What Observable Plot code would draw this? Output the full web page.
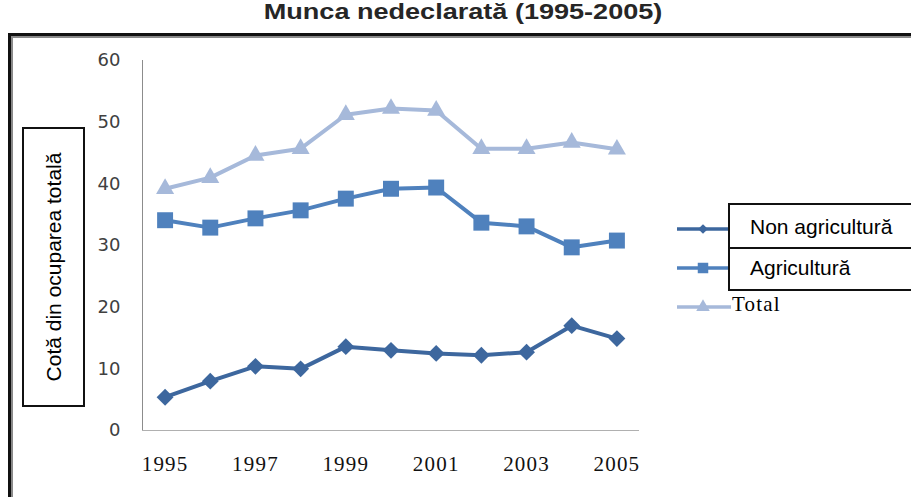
<!DOCTYPE html>
<html>
<head>
<meta charset="utf-8">
<script src="https://cdn.jsdelivr.net/npm/d3@7"></script>
<script src="https://cdn.jsdelivr.net/npm/@observablehq/plot@0.6"></script>
<style>
  html, body { margin: 0; padding: 0; background: #fff; overflow: hidden; }
  #page { position: relative; width: 911px; height: 497px; overflow: hidden; background: #fff; }
  #title { position: absolute; left: 8px; top: 1px; width: 911px; text-align: center;
    font: bold 22px "Liberation Sans", Arial, sans-serif; line-height: 22px; color: #262626; }
  #title span { display: inline-block; transform: scaleX(1.23); transform-origin: center; }
  #chart { position: absolute; left: 0; top: 33px; }
  #frame { position: absolute; left: 8px; top: 33px; width: 2000px; height: 2000px;
    border-left: 3px solid #111; border-top: 3px solid #111;
    box-shadow: inset 2px 2px 0 #8a8a8a; pointer-events: none; z-index: 5; }
  #ytitle { position: absolute; left: 22px; top: 127px; width: 59px; height: 276px;
    border: 2px solid #111; background: #fff; z-index: 3; }
  #ytitle span { position: absolute; left: 50%; top: 50%; white-space: nowrap;
    transform: translate(-50%, -50%) rotate(-90deg);
    font: 21px "Liberation Sans", Arial, sans-serif; color: #000; }
  #legendSvg { position: absolute; left: 0; top: 0; z-index: 2; }
  #legendBox { position: absolute; left: 728px; top: 203px; width: 400px; height: 84px;
    border: 2px solid #111; background: #fff; z-index: 3; }
  .lrow { position: absolute; left: 0; width: 400px; }
  .lrow .lbl { position: absolute; left: 20px; white-space: nowrap;
    font: 21px "Liberation Sans", Arial, sans-serif; color: #000; line-height: 24px; }
  #totalLabel { position: absolute; left: 732px; top: 292px; z-index: 3;
    font: 21px "Liberation Serif", "Times New Roman", serif; letter-spacing: 1.2px; color: #000; }
</style>
</head>
<body>
<div id="page">
  <div id="title"><span>Munca nedeclarată (1995-2005)</span></div>
  <div id="chart"></div>
  <div id="ytitle"><span>Cotă din ocuparea totală</span></div>
  <div id="frame"></div>
</div>
<script>
// ---- data ----
const years = [1995, 1996, 1997, 1998, 1999, 2000, 2001, 2002, 2003, 2004, 2005];
const nonAgricultura = [5.4, 8.0, 10.4, 10.0, 13.6, 13.0, 12.5, 12.2, 12.7, 17.0, 14.9];
const agricultura = [34.1, 32.9, 34.4, 35.7, 37.6, 39.2, 39.4, 33.7, 33.1, 29.7, 30.8];
const total = [39.2, 41.0, 44.6, 45.7, 51.2, 52.2, 51.9, 45.7, 45.7, 46.7, 45.6];
const seriesNames = ["Non agricultură", "Agricultură", "Total"];
const seriesColors = ["#3D679E", "#4F81BD", "#A6B9DA"];
const seriesSymbols = ["diamond2", "square", "triangle"];
const seriesR = [7.6, 9.0, 6.7];
const xTicks = [1995, 1997, 1999, 2001, 2003, 2005];
const yTicks = [0, 10, 20, 30, 40, 50, 60];

const seriesValues = [nonAgricultura, agricultura, total];
const rows = [];
seriesNames.forEach((s, i) => years.forEach((y, j) => rows.push({series: s, year: y, value: seriesValues[i][j]})));

const marks = [
  Plot.ruleX([1994.5], {y1: 0, y2: 60, stroke: "#8c8c8c", strokeWidth: 1}),
  Plot.ruleY([0], {x1: 1994.5, x2: 2005.5, stroke: "#b0b0b0", strokeWidth: 1}),
  Plot.axisY({ticks: yTicks, tickSize: 0, tickPadding: 22, fontSize: 18,
    fontFamily: "DejaVu Sans, Verdana, sans-serif", fill: "#404040", label: null}),
  Plot.axisX({ticks: xTicks, tickSize: 0, tickPadding: 26, fontSize: 21,
    fontFamily: "Liberation Serif, Times New Roman, serif", fill: "#111",
    tickFormat: d => String(d), label: null})
];
// draw Total first (behind), then Agricultura, then Non agricultura
[2, 1, 0].forEach(i => {
  const d = rows.filter(r => r.series === seriesNames[i]);
  marks.push(Plot.line(d, {x: "year", y: "value", stroke: seriesColors[i], strokeWidth: 4}));
  marks.push(Plot.dot(d, {x: "year", y: "value", fill: seriesColors[i], stroke: "none",
    symbol: seriesSymbols[i], r: seriesR[i]}));
});

const chart = Plot.plot({
  width: 911,
  height: 464,
  marginLeft: 142,
  marginRight: 272,
  marginTop: 27,
  marginBottom: 67,
  style: {background: "transparent", overflow: "visible"},
  x: {domain: [1994.5, 2005.5], label: null},
  y: {domain: [0, 60], label: null},
  marks
});
document.getElementById("chart").appendChild(chart);
d3.select(chart).selectAll("[aria-label='x-axis tick label'] text").style("letter-spacing", "1.2px");

// ---- legend ----
const page = d3.select("#page");
const lsvg = page.append("svg").attr("id", "legendSvg").attr("width", 911).attr("height", 497);
const legendY = [229, 268, 307];
const legendSym = [d3.symbolDiamond2, d3.symbolSquare, d3.symbolTriangle];
const legendSize = [60, 110, 80];
seriesNames.forEach((s, i) => {
  lsvg.append("line").attr("x1", 677).attr("x2", 731).attr("y1", legendY[i]).attr("y2", legendY[i])
    .attr("stroke", seriesColors[i]).attr("stroke-width", 3.5);
  lsvg.append("path").attr("d", d3.symbol(legendSym[i], legendSize[i])())
    .attr("transform", `translate(703,${legendY[i]})`).attr("fill", seriesColors[i]);
});
const box = page.append("div").attr("id", "legendBox");
box.append("div").style("position", "absolute").style("left", "0px").style("top", "42px")
  .style("width", "400px").style("height", "0px").style("border-top", "2px solid #111");
[0, 1].forEach(i => {
  const row = box.append("div").attr("class", "lrow").style("top", i === 0 ? "10px" : "51px");
  row.append("div").attr("class", "lbl").text(seriesNames[i]);
});
page.append("div").attr("id", "totalLabel").text(seriesNames[2]);
</script>
</body>
</html>
